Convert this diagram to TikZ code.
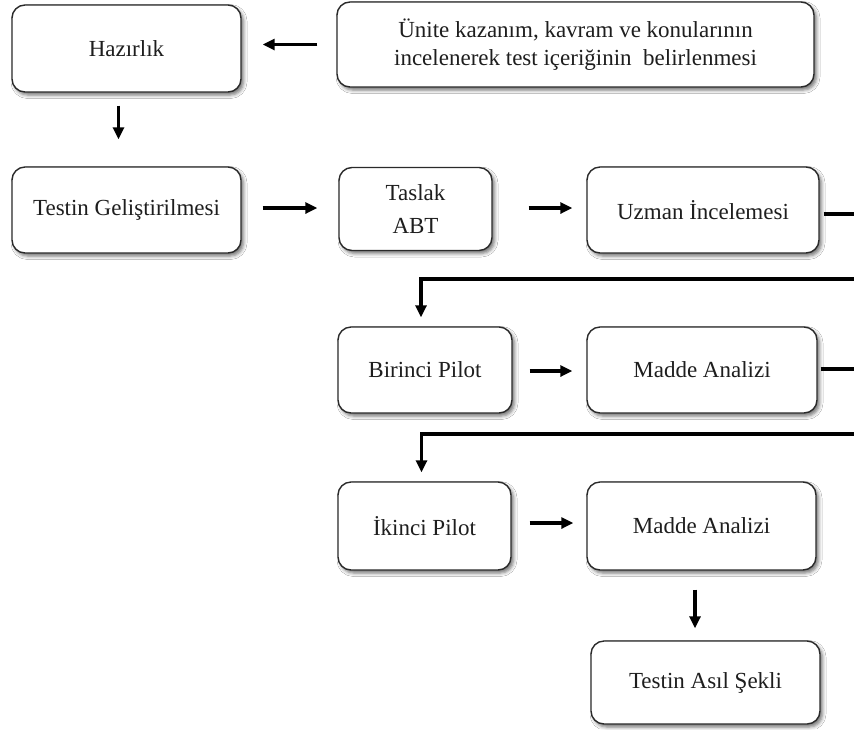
\documentclass[tikz,border=0pt]{standalone}
\usepackage{fontspec}
\setmainfont{Liberation Serif}
\usetikzlibrary{arrows.meta,shadows.blur}
\definecolor{ink}{HTML}{1E1E1E}
\definecolor{edge}{HTML}{2A2A2A}
\begin{document}
\begin{tikzpicture}[x=1pt,y=-1pt,
  box/.style={draw=edge,line width=1.4pt,fill=white,rounded corners=13pt,
    text=ink,align=center,font=\fontsize{23}{33}\selectfont,
    inner sep=0pt,
    blur shadow={shadow xshift=2.5pt,shadow yshift=-3pt,shadow blur radius=3.5pt,shadow opacity=55}},
  arr/.style={line width=3.1pt,draw=black,-{Triangle[length=12pt,width=11pt]}},
  ln/.style={line width=3.1pt,draw=black}]
\useasboundingbox (0,0) rectangle (854,729);
\fill[white] (0,0) rectangle (854,729);

% boxes
\node[box,minimum width=229pt,minimum height=87pt] (haz) at (126.5,48.5) {Hazırlık};
\node[box,minimum width=477pt,minimum height=85pt,font=\fontsize{23}{28}\selectfont] (une) at (575.5,44.5)
  {Ünite kazanım, kavram ve konularının\\incelenerek test içeriğinin\ \ belirlenmesi};
\node[box,minimum width=229pt,minimum height=86pt] (test) at (126.5,210) {Testin Geliştirilmesi};
\node[box,minimum width=153pt,minimum height=83pt] (tas) at (415.5,209) {Taslak\\ABT};
\node[box,minimum width=232pt,minimum height=86pt] (uzm) at (703,210) {Uzman İncelemesi};
\node[box,minimum width=174pt,minimum height=86pt] (bir) at (425,370) {Birinci Pilot};
\node[box,minimum width=230pt,minimum height=86pt] (mad1) at (702,370) {Madde Analizi};
\node[box,minimum width=173pt,minimum height=88pt] (iki) at (424.5,526) {İkinci Pilot};
\node[box,minimum width=229pt,minimum height=88pt] (mad2) at (701.5,526) {Madde Analizi};
\node[box,minimum width=229pt,minimum height=83pt] (ask) at (705.5,682.5) {Testin Asıl Şekli};

% points where the return lines leave the picture
\coordinate (o1) at (854,214);
\coordinate (r1) at (854,279);
\coordinate (o2) at (854,369);
\coordinate (r2) at (854,434);

% connectors
\draw[arr] ([xshift=-19pt]une.west) -- ([xshift=21pt]haz.east |- une.west);
\draw[arr] ([xshift=-8pt,yshift=-13pt]haz.south) -- ([xshift=-8pt,yshift=27pt]test.north);
\draw[arr] ([xshift=21pt,yshift=2pt]test.east) -- ([xshift=-21pt,yshift=2pt]tas.west |- test.east);
\draw[arr] ([xshift=36pt,yshift=1pt]tas.east) -- ([xshift=-14pt,yshift=1pt]uzm.west |- tas.east);
\draw[ln] ([xshift=4pt,yshift=-4pt]uzm.east) -- (o1);
\draw[arr] (r1) -| ([xshift=-4pt,yshift=9pt]bir.north);
\draw[arr] ([xshift=17pt,yshift=-1pt]bir.east) -- ([xshift=-14pt,yshift=-1pt]mad1.west);
\draw[ln] ([xshift=3pt,yshift=1pt]mad1.east) -- (o2);
\draw[arr] (r2) -| ([xshift=-3pt,yshift=9pt]iki.north);
\draw[arr] ([xshift=18pt,yshift=3pt]iki.east) -- ([xshift=-13pt,yshift=3pt]mad2.west);
\draw[arr] ([xshift=-6.5pt,yshift=-19pt]mad2.south) -- ([xshift=-10.5pt,yshift=12pt]ask.north);
\end{tikzpicture}
\end{document}
